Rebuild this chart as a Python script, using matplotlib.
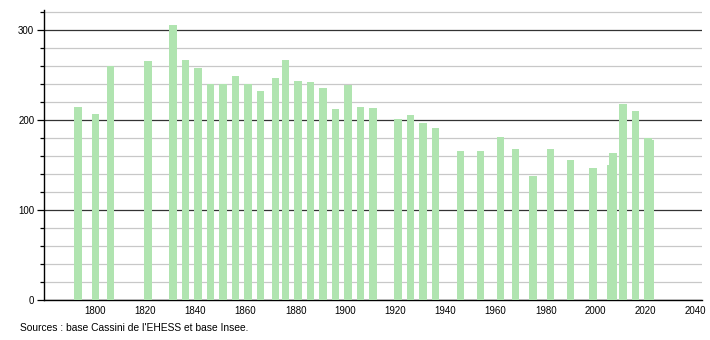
import matplotlib
matplotlib.use("Agg")
import matplotlib.pyplot as plt
from matplotlib.ticker import MultipleLocator

# census years and population
years = [1793, 1800, 1806, 1821, 1831, 1836, 1841, 1846, 1851, 1856, 1861, 1866,
         1872, 1876, 1881, 1886, 1891, 1896, 1901, 1906, 1911, 1921, 1926, 1931,
         1936, 1946, 1954, 1962, 1968, 1975, 1982, 1990, 1999, 2006, 2007, 2011,
         2016, 2021, 2022]
population = [214, 206, 260, 265, 305, 267, 258, 240, 240, 249, 240, 232,
              247, 267, 243, 242, 235, 212, 239, 214, 213, 201, 205, 196,
              191, 166, 166, 181, 168, 138, 168, 155, 147, 150, 163, 218,
              210, 180, 178]
x_ticks = list(range(1800, 2041, 20))
y_ticks = [0, 100, 200, 300]
source = "Sources : base Cassini de l'EHESS et base Insee."

plt.rcParams['font.family'] = ['Liberation Sans', 'DejaVu Sans']

fig = plt.figure(figsize=(7.1, 3.4), dpi=100)
ax = fig.add_axes([0.062, 0.1176, 0.927, 0.853])

ax.set_xlim(1779.4, 2042.6)
ax.set_ylim(0, 322)

# grid: light every 20, dark every 100
ax.yaxis.set_minor_locator(MultipleLocator(20))
ax.set_yticks(y_ticks)
ax.grid(axis='y', which='minor', color='#c8c8c8', linewidth=0.9)
ax.grid(axis='y', which='major', color='#333333', linewidth=0.9)
ax.set_axisbelow(True)

ax.bar(years, population, width=3, color='#b0e4b0', zorder=3)

ax.set_xticks(x_ticks)
ax.set_xticklabels([str(t) for t in x_ticks])
ax.tick_params(axis='x', length=0, pad=4, labelsize=7)
ax.tick_params(axis='y', which='major', length=5, width=0.9, pad=2, labelsize=7)
ax.tick_params(axis='y', which='minor', length=3, width=0.9)

for side in ['top', 'right']:
    ax.spines[side].set_visible(False)
ax.spines['left'].set_linewidth(1)
ax.spines['bottom'].set_linewidth(1)

fig.text(0.028, 0.035, source, fontsize=7.4, ha='left', va='center')

fig.savefig("out.png", dpi=100)
